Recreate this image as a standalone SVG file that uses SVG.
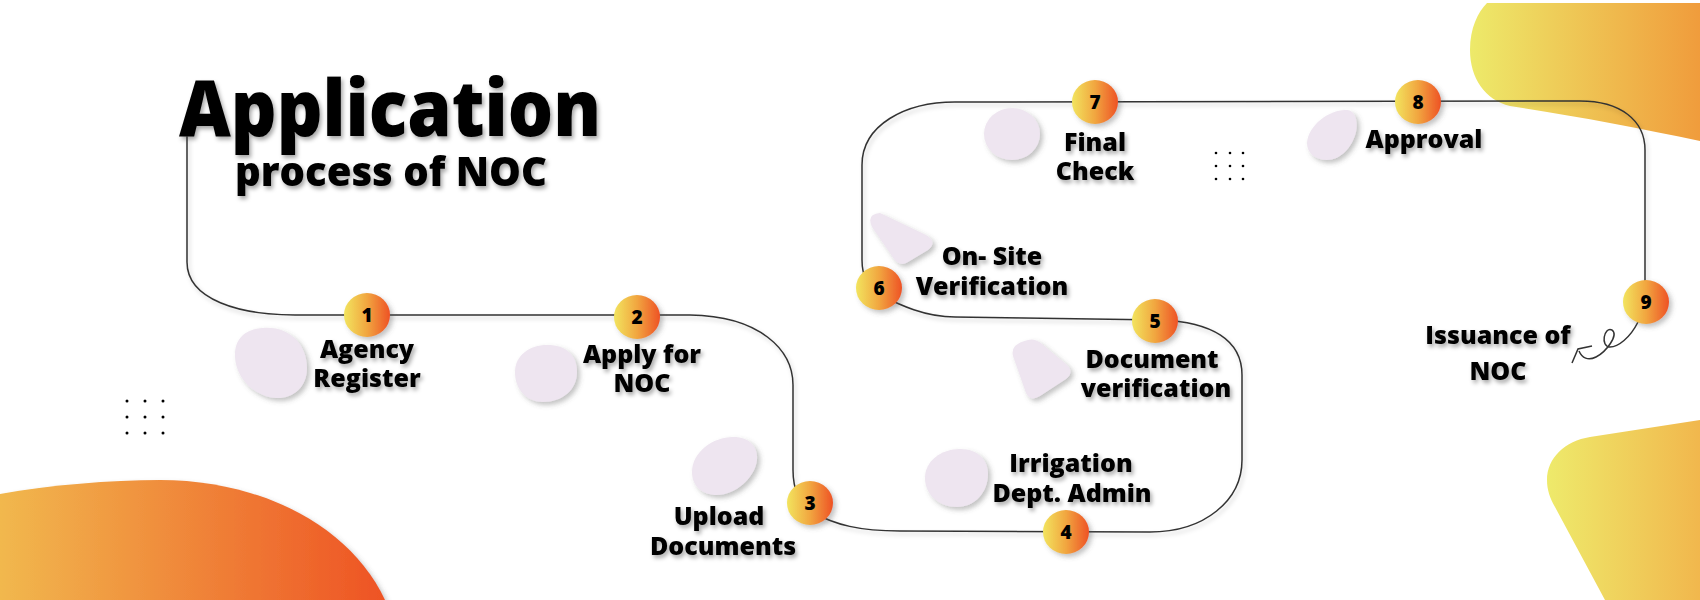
<svg xmlns="http://www.w3.org/2000/svg" width="1700" height="600" viewBox="0 0 1700 600">
  <defs>
    <linearGradient id="gNode" x1="0" y1="0" x2="1" y2="0">
      <stop offset="0" stop-color="#F2E45E"/>
      <stop offset="0.5" stop-color="#F1A640"/>
      <stop offset="1" stop-color="#EE5225"/>
    </linearGradient>
    <linearGradient id="gBL" x1="0" y1="0" x2="1" y2="0">
      <stop offset="0" stop-color="#F1B84E"/>
      <stop offset="1" stop-color="#EE5324"/>
    </linearGradient>
    <linearGradient id="gTR" x1="0" y1="0" x2="1" y2="0">
      <stop offset="0" stop-color="#EDEA6A"/>
      <stop offset="1" stop-color="#F09C3C"/>
    </linearGradient>
    <linearGradient id="gBR" x1="0" y1="0" x2="1" y2="0">
      <stop offset="0" stop-color="#EEEA6B"/>
      <stop offset="1" stop-color="#F1B74D"/>
    </linearGradient>
    <filter id="tShadow" x="-10%" y="-30%" width="120%" height="160%">
      <feDropShadow dx="2" dy="3" stdDeviation="2" flood-color="#000" flood-opacity="0.35"/>
    </filter>
    <filter id="bShadow" x="-30%" y="-30%" width="160%" height="160%">
      <feDropShadow dx="3" dy="3" stdDeviation="2.5" flood-color="#555" flood-opacity="0.35"/>
    </filter>
    <filter id="lShadow" x="-5%" y="-5%" width="110%" height="110%">
      <feDropShadow dx="2" dy="3" stdDeviation="2" flood-color="#000" flood-opacity="0.2"/>
    </filter>
  </defs>
  <style>
    .lbl { font-family: "Open Sans", "DejaVu Sans", sans-serif; font-weight: 800; font-size: 25px; fill: #000; text-anchor: middle; filter: url(#tShadow); }
    .num { font-family: "Open Sans", "DejaVu Sans", sans-serif; font-weight: 800; font-size: 19px; fill: #000; text-anchor: middle; }
    .node { fill: url(#gNode); filter: url(#bShadow); }
    .blob { fill: #EEE5F0; filter: url(#bShadow); }
    .dot { fill: #000; }
    .conn { fill: none; stroke: #333; stroke-width: 1.5; }
  </style>

  <rect width="1700" height="600" fill="#FFFFFF"/>

  <!-- background shapes -->
  <g id="background">
    <path d="M0,494 C50,485 110,480 160,480 C260,480 350,525 385,600 L0,600 Z" fill="url(#gBL)" filter="url(#bShadow)"/>
    <path d="M1487,3 L1700,3 L1700,141 C1640,128 1570,115 1510,106 C1485,100 1470,78 1470,50 C1470,28 1478,12 1487,3 Z" fill="url(#gTR)"/>
    <path d="M1700,420 L1590,437 C1565,441 1547,458 1547,480 C1547,490 1550,498 1555,507 L1605,600 L1700,600 Z" fill="url(#gBR)"/>
    <g class="dot">
      <circle cx="127" cy="401" r="1.5"/><circle cx="145" cy="401" r="1.5"/><circle cx="163" cy="401" r="1.5"/>
      <circle cx="127" cy="417" r="1.5"/><circle cx="145" cy="417" r="1.5"/><circle cx="163" cy="417" r="1.5"/>
      <circle cx="127" cy="433" r="1.5"/><circle cx="145" cy="433" r="1.5"/><circle cx="163" cy="433" r="1.5"/>
      <circle cx="1216" cy="153" r="1.3"/><circle cx="1230" cy="153" r="1.3"/><circle cx="1243" cy="153" r="1.3"/>
      <circle cx="1216" cy="166" r="1.3"/><circle cx="1230" cy="166" r="1.3"/><circle cx="1243" cy="166" r="1.3"/>
      <circle cx="1216" cy="179" r="1.3"/><circle cx="1230" cy="179" r="1.3"/><circle cx="1243" cy="179" r="1.3"/>
    </g>
  </g>

  <!-- title -->
  <g id="title" filter="url(#tShadow)">
    <text x="179" y="136" font-family="'Open Sans', 'DejaVu Sans', sans-serif" font-weight="800" font-size="78" textLength="422" lengthAdjust="spacingAndGlyphs">Application</text>
    <text x="235" y="186" font-family="'Open Sans', 'DejaVu Sans', sans-serif" font-weight="800" font-size="41" textLength="312" lengthAdjust="spacingAndGlyphs">process of NOC</text>
  </g>

  <!-- connectors -->
  <g id="connectors">
    <path class="conn" filter="url(#lShadow)" d="M187,136 L187,262 C187,300 240,315 295,315 L690,315 C760,316 793,350 793,385 L793,470 C793,490 800,505 812,512 C835,525 860,531 900,531 L1150,532 C1205,532 1242,500 1242,460 L1242,375 C1242,340 1212,322 1160,320 L955,317 C925,317 900,305 880,295 C868,290 862,275 862,260 L862,165 C862,125 905,102 955,102 L1580,101 C1620,101 1645,120 1645,150 L1645,290"/>
    <path class="conn" stroke-width="1.2" d="M1638,322 C1630,338 1618,347 1610,347 C1600,347 1604,326 1612,330 C1619,335 1606,352 1596,357 C1588,361 1582,358 1579,351"/>
    <path class="conn" stroke-width="1.2" d="M1572,363 L1578,349 L1592,346"/>
  </g>

  <!-- nodes -->
  <g id="step1">
    <path class="blob" d="M263,328 C290,326 307,345 307,368 C307,388 292,399 276,398 C255,397 235,378 235,355 C235,338 246,329 263,328 Z"/>
    <ellipse class="node" cx="367" cy="315" rx="23" ry="22"/>
    <text class="num" x="367" y="322">1</text>
    <text class="lbl" x="367" y="358">Agency</text>
    <text class="lbl" x="367" y="387">Register</text>
  </g>
  <g id="step2">
    <path class="blob" d="M547,345 C566,345 577,355 577,372 C577,390 562,402 543,402 C527,402 515,390 515,372 C515,355 530,345 547,345 Z"/>
    <ellipse class="node" cx="637" cy="317" rx="23" ry="22"/>
    <text class="num" x="637" y="324">2</text>
    <text class="lbl" x="642" y="363">Apply for</text>
    <text class="lbl" x="642" y="392">NOC</text>
  </g>
  <g id="step3">
    <path class="blob" d="M733,437 C750,437 758,447 757,460 C755,478 735,495 717,495 C702,495 692,486 692,472 C692,452 713,437 733,437 Z"/>
    <ellipse class="node" cx="810" cy="503" rx="23" ry="22"/>
    <text class="num" x="810" y="510">3</text>
    <text class="lbl" x="719" y="525">Upload</text>
    <text class="lbl" x="723" y="555">Documents</text>
  </g>
  <g id="step4">
    <path class="blob" d="M960,449 C978,449 988,460 988,474 C988,492 975,507 957,507 C938,507 925,494 925,478 C925,461 941,449 960,449 Z"/>
    <ellipse class="node" cx="1066" cy="532" rx="23" ry="22"/>
    <text class="num" x="1066" y="539">4</text>
    <text class="lbl" x="1071" y="472">Irrigation</text>
    <text class="lbl" x="1072" y="502">Dept. Admin</text>
  </g>
  <g id="step5">
    <path class="blob" d="M1028,340 Q1035,338 1042,344 L1066,364 Q1075,372 1066,379 L1040,396 Q1030,402 1026,393 L1013,356 Q1010,344 1028,340 Z"/>
    <ellipse class="node" cx="1155" cy="321" rx="23" ry="22"/>
    <text class="num" x="1155" y="328">5</text>
    <text class="lbl" x="1152" y="368">Document</text>
    <text class="lbl" x="1156" y="397">verification</text>
  </g>
  <g id="step6">
    <path class="blob" d="M880,213 L926,235 Q938,242 928,250 L908,262 Q900,267 894,259 L872,227 Q866,214 880,213 Z"/>
    <ellipse class="node" cx="879" cy="288" rx="23" ry="22"/>
    <text class="num" x="879" y="295">6</text>
    <text class="lbl" x="992" y="265">On- Site</text>
    <text class="lbl" x="992" y="295">Verification</text>
  </g>
  <g id="step7">
    <ellipse class="blob" cx="1012" cy="134" rx="28" ry="26"/>
    <ellipse class="node" cx="1095" cy="102" rx="23" ry="22"/>
    <text class="num" x="1095" y="109">7</text>
    <text class="lbl" x="1095" y="151">Final</text>
    <text class="lbl" x="1095" y="180">Check</text>
  </g>
  <g id="step8">
    <path class="blob" d="M1347,110 C1356,111 1358,122 1356,132 C1352,148 1340,160 1327,160 C1314,160 1307,152 1307,143 C1308,125 1330,109 1347,110 Z"/>
    <ellipse class="node" cx="1418" cy="102" rx="23" ry="22"/>
    <text class="num" x="1418" y="109">8</text>
    <text class="lbl" x="1424" y="148">Approval</text>
  </g>
  <g id="step9">
    <ellipse class="node" cx="1646" cy="302" rx="23" ry="22"/>
    <text class="num" x="1646" y="309">9</text>
    <text class="lbl" x="1498" y="344">Issuance of</text>
    <text class="lbl" x="1498" y="380">NOC</text>
  </g>
</svg>
